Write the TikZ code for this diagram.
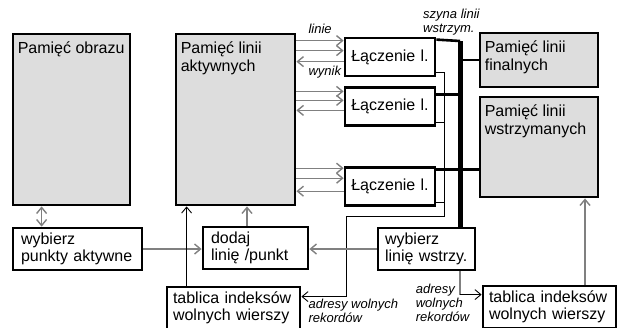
\documentclass[tikz,border=0pt]{standalone}
\usepackage{fontspec}
\setmainfont{Liberation Sans}
\usepackage{xcolor}
\usepackage{tikz}
\usetikzlibrary{arrows.meta,calc,positioning}
\definecolor{memgrey}{RGB}{221,221,221}
\definecolor{wiregrey}{RGB}{128,128,128}
\tikzset{
  boxfont/.style={font=\fontsize{16}{17.5}\selectfont},
  notefont/.style={font=\itshape\fontsize{13}{14}\selectfont,align=left,inner sep=0pt},
  memory/.style={draw=black,line width=2.8pt,fill=memgrey,inner sep=0pt},
  memtext/.style={boxfont,anchor=north west,align=left,inner xsep=6pt,inner ysep=9pt},
  procbox/.style={draw=black,line width=2.8pt,fill=white,boxfont,align=left,
    inner xsep=8pt,inner ysep=0pt,minimum height=42pt},
  joinbox/.style={procbox,align=center,inner xsep=5pt,text width=80pt,minimum height=38pt},
  flow/.style={line width=1.4pt,draw=wiregrey},
  wire/.style={line width=0.9pt,draw=black},
  bus/.style={line width=5pt,draw=black},
  link/.style={line width=2.6pt,draw=black}
}

\begin{document}
\begin{tikzpicture}[x=1pt,y=-1pt,>={Straight Barb[length=6pt,width=10pt]}]
  \useasboundingbox (0,0) rectangle (617,327);
  % pamieci
  \node[memory,minimum width=117pt,minimum height=171pt] (obraz) at (71.5,119.5) {};
  \node[memtext] (obrazt) at (obraz.north west) {Pamięć obrazu};
  \node[memory,minimum width=119pt,minimum height=171pt] (aktywne) at (235.5,119.5) {};
  \node[memtext] (aktywnet) at (aktywne.north west) {Pamięć linii\\aktywnych};
  \node[memory,minimum width=118pt,minimum height=54pt] (finalne) at (539,60) {};
  \node[memtext] (finalnet) at (finalne.north west) {Pamięć linii\\finalnych};
  \node[memory,minimum width=118pt,minimum height=100pt] (wstrzymane) at (539,147) {};
  \node[memtext] (wstrzymanet) at (wstrzymane.north west) {Pamięć linii\\wstrzymanych};
  % bloki
  \node[joinbox] (L1) at (390,57) {Łączenie l.};
  \node[joinbox,below=9pt of L1] (L2) {Łączenie l.};
  \node[joinbox,below=39pt of L2] (L3) {Łączenie l.};
  \node[procbox,text width=113pt] (wpunkty) at (77.5,249) {wybierz\\punkty aktywne};
  \node[procbox,text width=89pt] (dodaj) at (255.5,248) {dodaj\\linię /punkt};
  \node[procbox,inner xsep=7pt,text width=83pt] (wlinie) at (426.5,249) {wybierz\\linię wstrzy.};
  \node[procbox,inner xsep=6pt,text width=121pt] (tabL) at (233.5,308) {tablica indeksów\\wolnych wierszy};
  \node[procbox,inner xsep=6pt,text width=121pt] (tabR) at (549.5,307) {tablica indeksów\\wolnych wierszy};
  % szyna
  \coordinate (bustop) at (460,41);
  \draw[bus] (bustop) -- (bustop |- wlinie.north);
  \draw[link] ([yshift=-3pt]L1.north east) -- (bustop);
  \draw[link] ([yshift=-8pt]L2.north east) -- ([yshift=-8pt]L2.north east -| bustop);
  \draw[link] ([yshift=-3pt]L3.north east) -- ([yshift=-3pt]L3.north east -| wstrzymane.west);
  \draw[link] (finalne.west) -- (finalne.west -| bustop);
  % linie i wyniki
  \draw[flow,->] ([yshift=-4pt]L1.north west -| aktywne.east) -- ([yshift=-4pt]L1.north west);
  \draw[flow,->] ([yshift=-14pt]L1.north west -| aktywne.east) -- ([yshift=-14pt]L1.north west);
  \draw[flow,->] ([yshift=-25pt]L1.north west) -- ([yshift=-25pt]L1.north west -| aktywne.east);
  \draw[flow,->] ([yshift=-5pt]L2.north west -| aktywne.east) -- ([yshift=-5pt]L2.north west);
  \draw[flow,->] ([yshift=-14pt]L2.north west -| aktywne.east) -- ([yshift=-14pt]L2.north west);
  \draw[flow,->] ([yshift=-24pt]L2.north west) -- ([yshift=-24pt]L2.north west -| aktywne.east);
  \draw[flow,->] ([yshift=-2pt]L3.north west -| aktywne.east) -- ([yshift=-2pt]L3.north west);
  \draw[flow,->] ([yshift=-12pt]L3.north west -| aktywne.east) -- ([yshift=-12pt]L3.north west);
  \draw[flow,->] ([yshift=-25pt]L3.north west) -- ([yshift=-25pt]L3.north west -| aktywne.east);
  % adresy wolnych rekordow
  \coordinate (adrx) at (444,216);
  \coordinate (adrturn) at (346,216);
  \draw[wire,->] ([yshift=5pt]L1.south east) -| (adrx) -- (adrturn) |- ([yshift=-11pt]tabL.north east);
  \draw[wire] ([yshift=5pt]L2.south east) -- ([yshift=5pt]L2.south east -| adrx);
  \draw[wire] ([yshift=5pt]L3.south east) -- ([yshift=5pt]L3.south east -| adrx);
  \coordinate (adrbend) at ([yshift=-10pt]tabR.north west -| bustop);
  \draw[flow] (wlinie.south -| bustop) -- (adrbend);
  \draw[wire,->] (adrbend) -- ([yshift=-10pt]tabR.north west);
  % pozostale
  \draw[flow,<->] ([xshift=30pt]obraz.south west) -- ([xshift=30pt]obraz.south west |- wpunkty.north);
  \draw[flow,->] (wpunkty.east) -- (wpunkty.east -| dodaj.west);
  \draw[flow,->] (wlinie.west) -- (wlinie.west -| dodaj.east);
  \draw[flow,->] ([xshift=-8.5pt]dodaj.north) -- ([xshift=-8.5pt]dodaj.north |- aktywne.south);
  \draw[wire,->] ([xshift=21pt]tabL.north west) -- ([xshift=21pt]tabL.north west |- aktywne.south);
  \draw[flow,->] ([xshift=35.5pt]tabR.north) -- ([xshift=35.5pt]tabR.north |- wstrzymane.south);
  % opisy
  \node[notefont,anchor=base west] (linie) at ([xshift=12pt,yshift=-1pt]aktywne.north east) {linie};
  \node[notefont,anchor=base west] (wynik) at ([xshift=12pt,yshift=2pt]aktywne.east |- L1.south) {wynik};
  \node[notefont,anchor=north west] (szyna) at (423,9) {szyna linii\\wstrzym.};
  \node[notefont,below right=13pt and 7pt of tabL.north east] (adrL) {adresy wolnych\\rekordów};
  \node[notefont,anchor=north west] (adrR) at ([xshift=-66pt,yshift=1pt]tabR.north west) {adresy\\wolnych\\rekordów};
\end{tikzpicture}
\end{document}
